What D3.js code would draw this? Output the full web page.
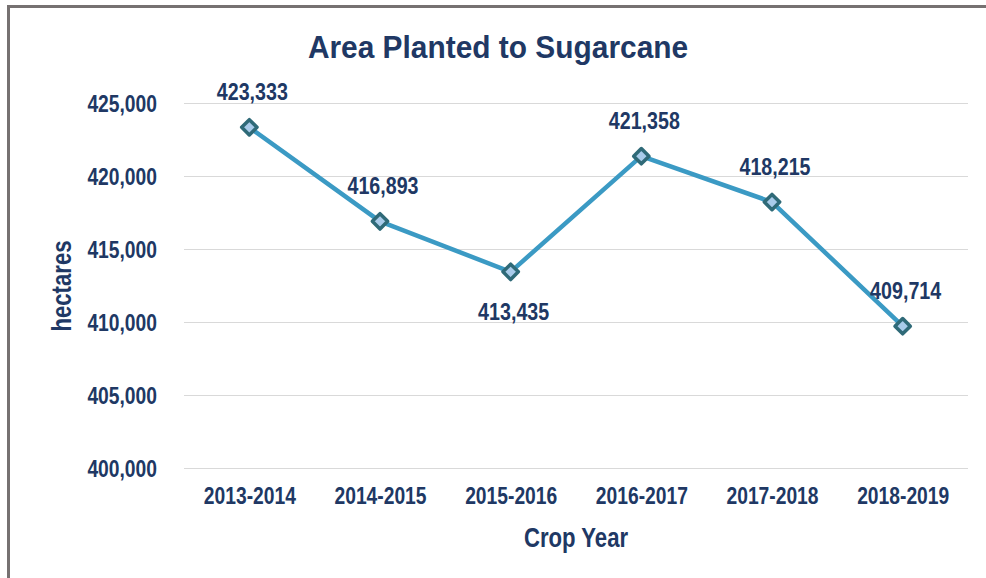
<!DOCTYPE html>
<html>
<head>
<meta charset="utf-8">
<script src="https://cdn.jsdelivr.net/npm/d3@7"></script>
<style>
  html, body { margin: 0; padding: 0; background: #fff; }
  svg { display: block; }
</style>
</head>
<body>
<div id="chart"></div>
<script>
const cropYears = ['2013-2014', '2014-2015', '2015-2016', '2016-2017', '2017-2018', '2018-2019'];
const areaPlanted = [423333, 416893, 413435, 421358, 418215, 409714];
const yTickValues = [400000, 405000, 410000, 415000, 420000, 425000];

const width = 986;
const height = 578;
const margin = { top: 103, right: 18, bottom: 110, left: 184 };
const navy = '#203864';
// no Arial Narrow here: squeeze Liberation Sans (Arial metrics) to 82% width
const narrow = 0.82;

const svg = d3.select('#chart')
  .append('svg')
  .attr('width', width)
  .attr('height', height)
  .style('font-family', '"Liberation Sans", Arial, sans-serif')
  .style('font-weight', 'bold');

// frame (only left and top edges are visible)
svg.append('path')
  .attr('d', `M8.5,${height} V6.5 H${width}`)
  .attr('fill', 'none')
  .attr('stroke', '#767171')
  .attr('stroke-width', 3);

const plotW = width - margin.left - margin.right;
const plotH = height - margin.top - margin.bottom;

const x = d3.scalePoint().domain(cropYears).range([0, plotW]).padding(0.5);
const y = d3.scaleLinear().domain([400000, 425000]).range([plotH, 0]);

const g = svg.append('g').attr('transform', `translate(${margin.left},${margin.top})`);

function addText(parent, px, py, sx, size, str) {
  return parent.append('text')
    .attr('transform', `translate(${px},${py}) scale(${sx},1)`)
    .attr('text-anchor', 'middle')
    .attr('fill', navy)
    .style('font-size', `${size}px`)
    .text(str);
}

// gridlines
const grid = g.append('g')
  .call(d3.axisLeft(y).tickValues(yTickValues).tickSize(-plotW).tickFormat(''));
grid.select('.domain').remove();
grid.selectAll('line').attr('stroke', '#d9d9d9').attr('stroke-width', 1);

// y axis labels
const yAxis = g.append('g')
  .attr('transform', 'translate(-27,0)')
  .call(d3.axisLeft(y).tickValues(yTickValues).tickSize(0).tickPadding(0).tickFormat(d3.format(',')));
yAxis.select('.domain').remove();
yAxis.selectAll('text')
  .attr('x', 0)
  .attr('dy', '0.35em')
  .attr('transform', `scale(${narrow},1)`)
  .attr('fill', navy)
  .style('font-size', '23.5px')
  .style('font-family', null);

// x axis labels
const xAxis = g.append('g')
  .attr('transform', `translate(0,${plotH})`)
  .call(d3.axisBottom(x).tickSize(0).tickPadding(19));
xAxis.select('.domain').remove();
xAxis.selectAll('text')
  .attr('transform', `scale(${narrow},1)`)
  .attr('fill', navy)
  .style('font-size', '23.5px')
  .style('font-family', null);

// line
const line = d3.line()
  .x((d, i) => x(cropYears[i]))
  .y(d => y(d));

g.append('path')
  .datum(areaPlanted)
  .attr('d', line)
  .attr('fill', 'none')
  .attr('stroke', '#3b9ac4')
  .attr('stroke-width', 4.5)
  .attr('stroke-linejoin', 'round');

// markers
g.selectAll('path.marker')
  .data(areaPlanted)
  .enter()
  .append('path')
  .attr('class', 'marker')
  .attr('d', d3.symbol().type(d3.symbolDiamond2).size(150))
  .attr('transform', (d, i) => `translate(${x(cropYears[i])},${y(d)})`)
  .attr('fill', '#a9cbea')
  .attr('stroke', '#2f6a78')
  .attr('stroke-width', 3.5)
  .attr('stroke-linejoin', 'round');

// data labels
const labelBelow = new Set(['2015-2016']);
areaPlanted.forEach((d, i) => {
  const below = labelBelow.has(cropYears[i]);
  addText(g, x(cropYears[i]) + 3, y(d) + (below ? 48 : -27), narrow, 24, d3.format(',')(d));
});

// title
addText(svg, 498, 58, 0.934, 32, 'Area Planted to Sugarcane');

// axis titles
addText(svg, margin.left + plotW / 2, 547, narrow, 27, 'Crop Year');

svg.append('g')
  .attr('transform', 'translate(71,286) rotate(-90)')
  .call(sel => addText(sel, 0, 0, narrow, 27, 'hectares'));
</script>
</body>
</html>
